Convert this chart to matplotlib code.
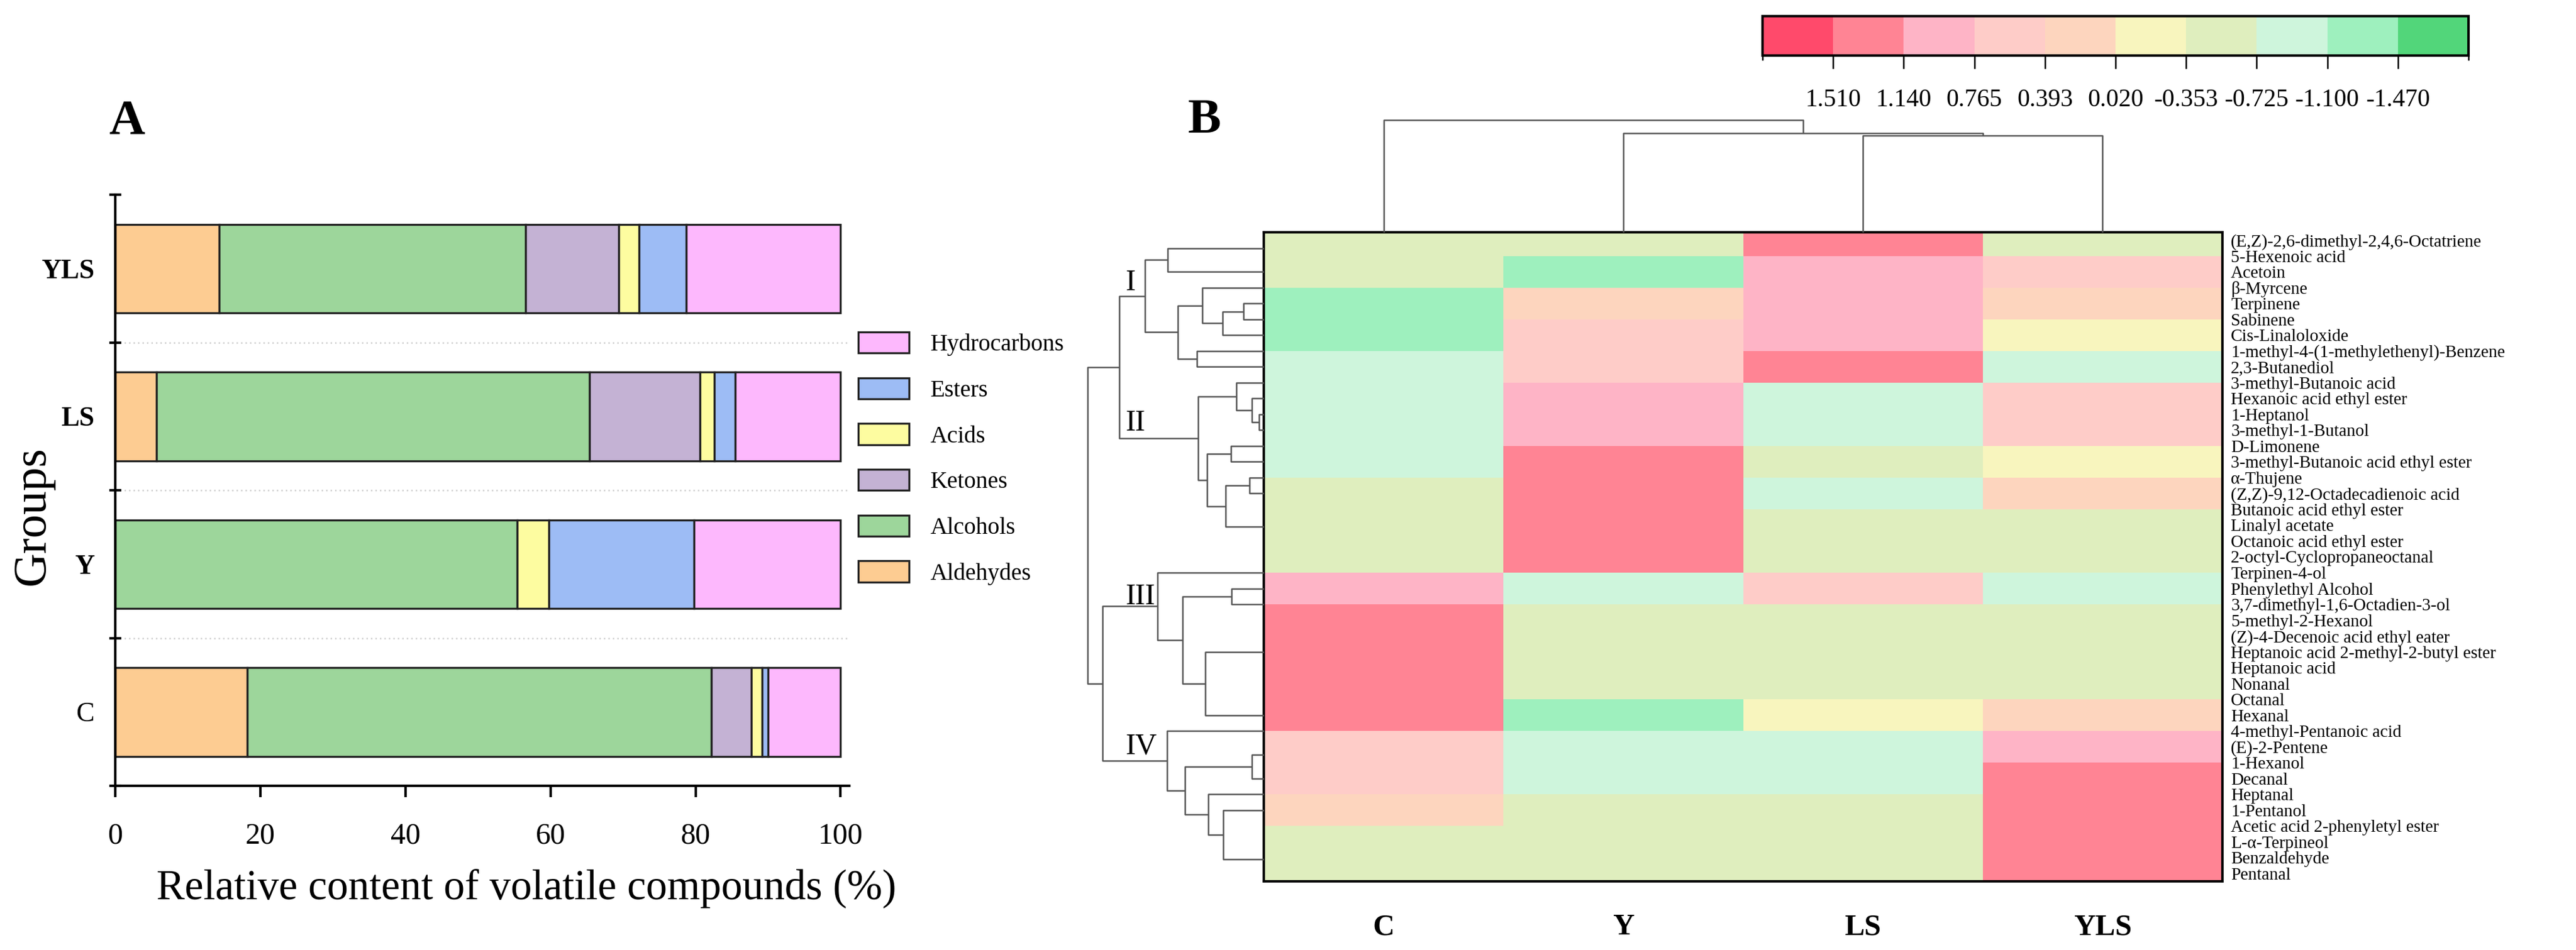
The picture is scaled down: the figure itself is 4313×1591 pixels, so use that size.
import numpy as np
import matplotlib
matplotlib.use('Agg')
import matplotlib.pyplot as plt
import matplotlib as mpl
from matplotlib.colors import ListedColormap, BoundaryNorm
from matplotlib.patches import Patch

plt.rcParams['font.family'] = ['Liberation Serif', 'DejaVu Serif']

W, H, DPI = 4313, 1591, 300

# ---------------- panel A : relative content (%) ----------------
groups = ['C', 'Y', 'LS', 'YLS']
classes = ['Aldehydes', 'Alcohols', 'Ketones', 'Acids', 'Esters', 'Hydrocarbons']
class_colors = ['#fdcc92', '#9dd69b', '#c4b2d4', '#fdfca0', '#9dbcf5', '#fdb8fd']
aldehydes = [18.2, 0.0, 5.7, 14.3]
alcohols = [64.0, 55.4, 59.7, 42.3]
ketones = [5.5, 0.0, 15.2, 12.8]
acids = [1.5, 4.4, 2.0, 2.8]
esters = [0.8, 20.0, 2.9, 6.5]
hydrocarbons = [10.0, 20.2, 14.5, 21.3]

# ---------------- panel B : heatmap ----------------
samples = ['C', 'Y', 'LS', 'YLS']
compounds = [
    '(E,Z)-2,6-dimethyl-2,4,6-Octatriene', '5-Hexenoic acid', 'Acetoin', 'β-Myrcene',
    'Terpinene', 'Sabinene', 'Cis-Linaloloxide', '1-methyl-4-(1-methylethenyl)-Benzene',
    '2,3-Butanediol', '3-methyl-Butanoic acid', 'Hexanoic acid ethyl ester', '1-Heptanol',
    '3-methyl-1-Butanol', 'D-Limonene', '3-methyl-Butanoic acid ethyl ester', 'α-Thujene',
    '(Z,Z)-9,12-Octadecadienoic acid', 'Butanoic acid ethyl ester', 'Linalyl acetate',
    'Octanoic acid ethyl ester', '2-octyl-Cyclopropaneoctanal', 'Terpinen-4-ol',
    'Phenylethyl Alcohol', '3,7-dimethyl-1,6-Octadien-3-ol', '5-methyl-2-Hexanol',
    '(Z)-4-Decenoic acid ethyl eater', 'Heptanoic acid 2-methyl-2-butyl ester',
    'Heptanoic acid', 'Nonanal', 'Octanal', 'Hexanal', '4-methyl-Pentanoic acid',
    '(E)-2-Pentene', '1-Hexanol', 'Decanal', 'Heptanal', '1-Pentanol',
    'Acetic acid 2-phenyletyl ester', 'L-α-Terpineol', 'Benzaldehyde', 'Pentanal',
]
# z-scores of the colour blocks (21 blocks, drawn half a row off the labels)
hm_C = [-0.50, -0.45, -1.30, -1.20, -0.80, -0.85, -0.90, -0.90, -0.60, -0.50, -0.50,
        1.00, 1.50, 1.50, 1.50, 1.40, 0.55, 0.45, 0.10, -0.50, -0.50]
hm_Y = [-0.50, -1.25, 0.30, 0.55, 0.45, 1.00, 0.95, 1.45, 1.40, 1.50, 1.50,
        -0.95, -0.50, -0.50, -0.50, -1.20, -0.85, -0.95, -0.55, -0.50, -0.50]
hm_LS = [1.50, 1.05, 0.80, 0.90, 1.35, -0.75, -0.80, -0.45, -0.90, -0.50, -0.50,
         0.70, -0.50, -0.50, -0.50, -0.30, -0.85, -0.95, -0.55, -0.50, -0.50]
hm_YLS = [-0.50, 0.65, 0.20, -0.25, -1.00, 0.60, 0.75, -0.10, 0.10, -0.50, -0.50,
          -0.75, -0.50, -0.50, -0.50, 0.10, 1.10, 1.45, 1.35, 1.50, 1.50]
cbar_ticks = [1.510, 1.140, 0.765, 0.393, 0.020, -0.353, -0.725, -1.100, -1.470]
hm_colors = ['#52d67a', '#9ef0be', '#cef5dc', '#dfeebe', '#f8f5be',
             '#fdd5be', '#feccc8', '#feb4c6', '#ff8494', '#ff4a6b']

# row tree: visible leaf positions (label rows) and links (a, b, distance)
row_leaves = [0.5, 2, 3, 4, 5, 6, 7, 8, 9, 10, 11, 12, 13, 14, 15, 16, 18.1,
              21, 22, 23, 26, 30, 31, 32.5, 34, 35, 36, 39.1]
row_links = [
    (3, 4, 0.115), (28, 5, 0.234), (2, 29, 0.349), (6, 7, 0.380), (30, 31, 0.488),
    (0, 1, 0.546), (33, 32, 0.675), (10, 11, 0.027), (9, 35, 0.068), (8, 36, 0.156),
    (12, 13, 0.186), (14, 15, 0.081), (39, 16, 0.217), (38, 40, 0.322), (37, 41, 0.373),
    (34, 42, 0.820), (18, 19, 0.183), (20, 21, 0.332), (44, 45, 0.461), (17, 46, 0.603),
    (23, 24, 0.068), (26, 27, 0.231), (25, 49, 0.315), (48, 50, 0.447), (22, 51, 0.549),
    (47, 52, 0.915), (43, 53, 1.000),
]
cluster_names = ['I', 'II', 'III', 'IV']
cluster_rows = [3.16, 12.03, 22.98, 32.46]
# column tree
col_leaves = [0.5, 1.5, 2.5, 3.5]
col_links = [(2, 3, 0.862), (1, 4, 0.883), (0, 5, 1.000)]


def box(l, t, r, b):
    return [l / W, 1 - b / H, (r - l) / W, (b - t) / H]


def draw_tree(ax, leaves, links, side):
    pos = list(leaves)
    hgt = [0.0] * len(leaves)
    for a, b, h in links:
        ya, yb = pos[a], pos[b]
        xs = [hgt[a], h, h, hgt[b]]
        ys = [ya, ya, yb, yb]
        if side == 'top':
            xs, ys = ys, xs
        ax.plot(xs, ys, color='#555555', lw=0.6, clip_on=False, solid_capstyle='butt')
        pos.append((ya + yb) / 2)
        hgt.append(h)


fig = plt.figure(figsize=(W / DPI, H / DPI), dpi=DPI)

# ---- A
axA = fig.add_axes(box(193, 326, 1422, 1316))
ypos = np.arange(len(groups))
left = np.zeros(len(groups))
for name, vals, col in zip(classes, [aldehydes, alcohols, ketones, acids, esters, hydrocarbons],
                           class_colors):
    axA.barh(ypos, vals, left=left, height=0.6, color=col, edgecolor='#222222',
             linewidth=0.8, label=name, zorder=2)
    left += np.array(vals)
axA.set_xlim(0, 101.2)
axA.set_ylim(-0.5, len(groups) - 0.5)
for b in np.arange(0.5, len(groups) - 0.5, 1):
    axA.axhline(b, color='#cfcfcf', lw=0.6, ls=(0, (1, 2)), zorder=0)
axA.set_yticks(np.arange(-0.5, len(groups), 1))
axA.set_yticklabels([])
axA.set_yticks(ypos, minor=True)
axA.set_yticklabels(groups, minor=True)
axA.tick_params(axis='y', which='major', direction='inout', length=4.6, width=1.0)
axA.tick_params(axis='y', which='minor', length=0, pad=8.4, labelsize=11)
for lab in axA.get_yticklabels(minor=True):
    lab.set_fontweight('normal' if lab.get_text() == 'C' else 'bold')
axA.set_xticks(np.arange(0, 101, 20))
axA.tick_params(axis='x', direction='out', length=4.6, width=1.0, pad=10, labelsize=12)
for s in ['top', 'right']:
    axA.spines[s].set_visible(False)
for s in ['left', 'bottom']:
    axA.spines[s].set_linewidth(1.0)
axA.set_ylabel('Groups', fontsize=19)
axA.yaxis.set_label_coords(-0.083, 0.457)
axA.set_xlabel('Relative content of volatile compounds (%)', fontsize=17)
axA.xaxis.set_label_coords(0.56, -0.141)

handles = [Patch(facecolor=c, edgecolor='#222222', linewidth=0.8) for c in class_colors]
fig.legend(handles[::-1], classes[::-1], loc='upper left',
           bbox_to_anchor=(1437 / W, 1 - 556 / H), frameon=False, fontsize=9.5,
           handlelength=2.15, handleheight=1.0, handletextpad=0.9, labelspacing=0.92,
           borderpad=0, borderaxespad=0)

fig.text(182 / W, 1 - 223 / H, 'A', fontsize=20, fontweight='bold', va='baseline')
fig.text(1989 / W, 1 - 222 / H, 'B', fontsize=20, fontweight='bold', va='baseline')

# ---- B heatmap
bounds = [-1.843] + sorted(cbar_ticks) + [1.883]
cmap = ListedColormap(hm_colors)
norm = BoundaryNorm(bounds, cmap.N)
n = len(compounds)
block_edges = np.r_[-0.5, np.arange(1, n - 1, 2), n - 0.5]
Z = np.column_stack([hm_C, hm_Y, hm_LS, hm_YLS])

axH = fig.add_axes(box(2116, 389, 3721, 1476))
axH.pcolormesh(np.arange(len(samples) + 1), block_edges, Z, cmap=cmap, norm=norm)
axH.set_xlim(0, len(samples))
axH.set_ylim(n - 0.5, -0.5)
axH.yaxis.tick_right()
axH.set_yticks(np.arange(n))
axH.set_yticklabels(compounds, fontsize=7)
axH.tick_params(axis='y', length=0, pad=3.4)
axH.set_xticks(np.arange(len(samples)) + 0.5)
axH.set_xticklabels(samples, fontsize=12, fontweight='bold')
axH.tick_params(axis='x', length=0, pad=13)
for s in axH.spines.values():
    s.set_linewidth(1.0)

axR = fig.add_axes(box(1820.7, 389, 2116, 1476))
axR.set_xlim(1.0, 0)
axR.set_ylim(n - 0.5, -0.5)
axR.axis('off')
draw_tree(axR, row_leaves, row_links, 'left')
for name, r in zip(cluster_names, cluster_rows):
    axR.text(0.786, r, name, fontsize=12, ha='left', va='baseline')

axC = fig.add_axes(box(2116, 201, 3721, 389))
axC.set_xlim(0, len(samples))
axC.set_ylim(0, 1)
axC.axis('off')
draw_tree(axC, col_leaves, col_links, 'top')

cax = fig.add_axes(box(2951, 27, 4133, 93))
cb = mpl.colorbar.ColorbarBase(cax, cmap=cmap, norm=norm, boundaries=bounds,
                               ticks=cbar_ticks, orientation='horizontal', spacing='uniform')
cax.invert_xaxis()
cb.set_ticklabels([f'{t:.3f}' for t in cbar_ticks])
cax.tick_params(axis='x', direction='out', length=5.3, width=0.6, pad=8, labelsize=10)
cb.outline.set_linewidth(1.0)

fig.savefig('out.png', dpi=DPI)
